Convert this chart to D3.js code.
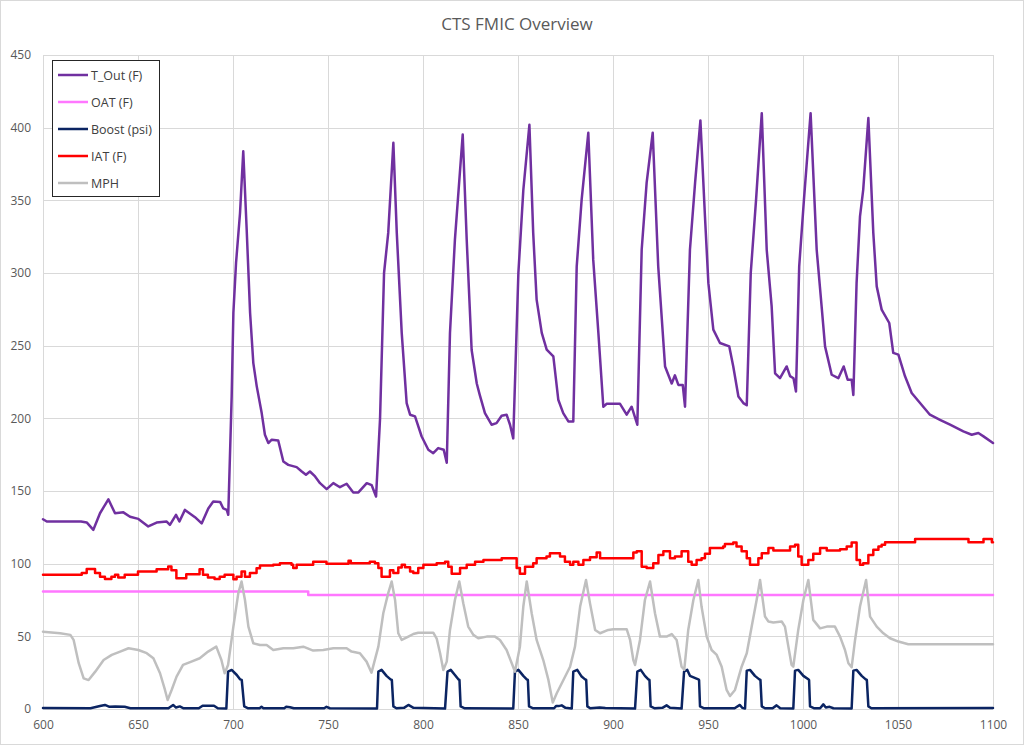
<!DOCTYPE html>
<html><head><meta charset="utf-8">
<script src="https://cdn.jsdelivr.net/npm/d3@7"></script>
<style>
html,body{margin:0;padding:0;background:#fff;}
svg{display:block;font-family:"Open Sans",sans-serif;}
</style></head>
<body>
<svg id="chart" width="1024" height="745"></svg>
<script>
// ---- data (time in s, values) ----
const xTicks = [600,650,700,750,800,850,900,950,1000,1050,1100];
const yTicks = [0,50,100,150,200,250,300,350,400,450];
const seriesNames = ["T_Out (F)","OAT (F)","Boost (psi)","IAT (F)","MPH"];
const seriesColors = ["#7030A0","#FF77FF","#0B2462","#FF0000","#BFBFBF"];

const tOut = [[600,130.6],[602,129],[610,129],[620,129],[623,128.4],[626.5,123.3],[630,134.7],[634.4,144.3],[637.9,134.7],[642.3,135.3],[645.8,132.3],[650.2,130.8],[655.4,125.6],[659.8,128.3],[665.1,129],[666.8,126.7],[670,133.6],[671.8,129],[674.7,137],[680,132],[683.5,127.7],[687,138],[689.6,142.8],[693.2,142.5],[694.9,138],[696.7,137],[697.5,133.6],[699.3,215],[700.2,272.5],[701.6,306.9],[703.7,341.3],[705.4,383.8],[707.2,329.9],[709,272.5],[710.7,238],[712.5,222],[715.1,203.6],[716.8,188.7],[718.6,183],[720.4,185.3],[723.8,184.8],[726.5,170.3],[729.1,168],[733.5,166.4],[736.2,163.4],[738.4,161.2],[740.5,163.4],[743.2,160],[745.8,155.4],[749.3,151.3],[752.8,155.4],[756.3,152.6],[759.8,155],[763.3,149],[766,149],[770.4,155.4],[773,154],[775.3,146.2],[777.4,200],[779.5,300],[781.7,327.6],[784.4,389.6],[786.2,327.6],[788.8,258.8],[791.4,210.5],[793.2,202.5],[795.8,201.3],[799.3,187.5],[802.8,178.4],[805.4,176],[808,179.5],[810.9,178.4],[812.5,169.4],[814.2,258.8],[816.8,323],[820.9,395.3],[823,323],[825.6,247],[828.3,224],[829.9,216],[832.6,203.6],[836.1,195.6],[838.7,196.7],[841.4,201.8],[844,202.5],[845.8,195.6],[847.5,186.2],[850.2,300],[852.8,357],[856,402],[858,327.6],[859.8,281.7],[862.5,258.8],[865.1,247.3],[868.6,242.6],[871.2,212.8],[873.8,203.6],[876.5,197.9],[879.1,197.9],[880.9,304.6],[883.5,350.5],[887,396.5],[889.6,309],[892.3,258.8],[894.9,208],[896.7,210],[903.7,210],[907.2,202.5],[909.8,208],[912.8,195.6],[915.1,316],[917.7,362],[920.9,396.5],[923.8,304.6],[927.4,235.7],[930.9,224],[932.6,229.6],[934.4,223],[936.7,223],[937.9,208],[940.5,316],[943.2,362],[946,405],[948.4,339],[950.2,293],[952.8,261],[956.3,251.8],[961.2,249.5],[963.3,235.7],[966,215],[968.6,210.5],[970.4,209],[972.5,300],[975.3,350.5],[978.3,410],[980.9,316],[983.5,277],[985.3,231],[987.9,227.6],[991.4,235.7],[993.2,229],[995,227.6],[996.3,218.5],[998,304.6],[1000.5,350.5],[1004,410],[1007.2,316],[1009.8,277],[1011.6,249.5],[1015.1,230],[1018.6,227.6],[1021.4,235.7],[1023.5,226.6],[1025.6,226.6],[1026.5,216],[1028.2,293],[1030,339],[1031.7,357.4],[1034.4,406.6],[1037,327.6],[1038.8,290.8],[1041.4,274.8],[1045.4,265.6],[1047.5,245],[1050.2,243.8],[1053.7,228.9],[1057.2,217.4],[1061.6,210.5],[1066.8,202.5],[1072.1,199],[1077.4,195.6],[1084.4,191],[1088.8,188.7],[1092.3,189.9],[1095,187.6],[1100,183]];

const oat = [[600,80.8],[739.6,80.8],[739.6,78.5],[1100,78.5]];

const boost = [[600,0.7],[625,0.5],[630,2],[632.6,2.8],[635,1.5],[638,1.8],[643,1.5],[646,0.5],[666,0.5],[668.5,2.8],[670,1],[672,1.8],[674,0.5],[682,0.5],[684,2.3],[690,2.3],[692,0.5],[696.5,0.3],[697.4,25.7],[699.3,26.9],[702,23.4],[703.7,20.4],[704.6,20],[705.9,1.8],[708,0.5],[714,0.5],[715,1.5],[716,0.5],[727,0.5],[728,1.5],[730,1.2],[732,0.5],[748,0.5],[749.2,1.5],[751,0.5],[775.8,0.3],[776.5,25.7],[778.2,26.9],[780.8,22.8],[782.9,20.4],[783.6,20],[784.4,1.8],[786,0.5],[790,0.8],[792.3,2.8],[795,0.8],[811.6,0.3],[812.9,25.7],[814.6,26.9],[816.8,23.4],[818.6,20.4],[819.2,20],[819.8,1.8],[822,0.5],[847.5,0.3],[848.4,25.7],[850.2,26.9],[852.8,22.8],[854.6,20.4],[855.2,20],[855.8,1.8],[858,0.5],[869,0.5],[870,2],[871.4,2],[873,2.5],[875,0.8],[878.3,0.3],[879.1,25.7],[881.2,26.9],[883.5,22.3],[885.3,20.4],[885.9,20],[886.5,1.8],[888,0.5],[893,1],[896,0.7],[911.6,0.3],[912.8,25.7],[914.6,26.9],[916.8,22.8],[918.6,20.4],[919.2,20],[919.8,1.8],[922,0.5],[926,0.8],[928.2,2.5],[930,0.8],[936.1,0.3],[937.4,25.7],[939.1,26.9],[940.5,22.8],[944.9,20.4],[945.3,20],[945.8,1.8],[948,0.5],[964,0.5],[966.8,2.8],[968,0.8],[969.5,0.3],[970.4,26.4],[972.1,26.9],[974.7,22.8],[977,20.4],[977.6,20],[978.3,1.8],[980,0.5],[984,0.5],[986.1,2.5],[988,0.5],[994.9,0.3],[995.8,26.4],[997.5,26.9],[1000.2,22.8],[1002.8,20.4],[1003.2,20],[1003.7,1.8],[1006,0.5],[1009,0.5],[1010.7,3.2],[1012,1],[1014,1.5],[1016,0.5],[1025.6,0.3],[1026.5,26.4],[1028.2,26.9],[1030.9,22.8],[1033,20.4],[1033.6,20],[1034.4,1.8],[1036,0.5],[1100,0.7]];

const iat = [[600,92.3],[620.4,93.5],[623,96.4],[627.4,93.5],[630,91],[632.6,89.5],[636,91],[637.9,92.3],[639.6,90.5],[643,92.3],[650,94.6],[659.8,96.2],[665.9,98],[667.6,95.5],[670.2,90],[675.4,92.8],[682.4,96.2],[684.2,92.3],[686.8,90.5],[690.3,89.5],[693,91],[695.6,92.3],[700.2,89.3],[701.9,91],[704.5,94.6],[706.3,91],[708.9,93.5],[712.4,96.9],[714.2,98.7],[721.2,99.2],[724.7,100.3],[730.8,99.2],[731.7,97],[733.5,99.2],[742.2,101.4],[749.2,100],[760.8,102],[762,100.3],[772,101.4],[774.7,100.3],[776.5,97],[778.2,91],[782.6,95.5],[784.4,93.5],[787,97.4],[788.8,99.2],[790.5,97.6],[793.2,94.6],[794.9,93.5],[797.5,97],[800.2,99.2],[807.2,100.3],[811.6,101.4],[813.3,97.9],[815.1,93],[819.5,97],[823,99.2],[827.4,101.4],[831.8,102.6],[841.4,103.7],[849.3,97],[851,93],[853.7,97.9],[858,100.3],[859.8,103.7],[865,104.9],[866.8,107.2],[872.1,104.9],[874.7,101.4],[877.4,99.2],[879.1,101.4],[881.8,99.2],[884.4,102.6],[887.9,104.4],[891.4,107.7],[893.2,103.7],[910.7,107.7],[912.5,108.5],[915.1,97.9],[917.7,97],[921.2,100.3],[923.9,106],[926.5,108.5],[930,103.7],[932.6,104.9],[936.1,108.5],[939.6,101.4],[941.4,99.2],[944,102.6],[946.6,103.7],[948.4,106.8],[951,110.7],[958,111.8],[958.9,113.6],[963.3,114.5],[965,111.8],[967.7,108.5],[970.4,103.7],[972.1,99.2],[976.5,103.7],[978.3,107.2],[981.8,110.7],[984.4,109],[993.2,111.8],[995.8,113],[997.5,104.9],[999.3,99.2],[1002.8,102.6],[1005.4,106.8],[1009,110.7],[1012.5,109],[1019.5,110],[1023,111.8],[1025.6,114.5],[1028.2,102.6],[1030,99.2],[1031.7,100.3],[1034.4,106],[1037,109.6],[1039.7,111.8],[1041.4,113],[1043.2,114.8],[1059,116.9],[1087.1,114.8],[1095,116.9],[1099.4,114.8],[1100,114.8]];

const mph = [[600,53.2],[609,52.1],[614.4,51],[616.1,47.6],[618.8,31.5],[621.4,21.1],[624,19.9],[627.5,25.7],[631.9,33.7],[636.2,37.2],[640.6,39.5],[645,41.8],[650.2,40.6],[654.6,38.4],[658.1,34.9],[661.6,24.6],[664.2,13.1],[665.6,6.2],[667.7,13.1],[670.3,22.3],[673.7,30.3],[678.1,32.6],[682.5,34.9],[686.9,39.5],[691.2,42.9],[693.9,33.7],[695.6,24.6],[697.4,30.3],[700.2,56.7],[702.8,79.7],[704.5,87.7],[706.3,75],[708.1,56.7],[710.7,45.2],[714.2,44],[717.7,44],[721.2,40.6],[726.5,41.8],[731.7,41.8],[737,42.9],[742.2,40.2],[747.5,40.6],[752.8,41.8],[759.8,41.8],[762.4,39.5],[766.8,38.4],[770.3,32.6],[772.9,25],[776.5,42.9],[779.1,65.9],[781.7,79.7],[783.5,87.7],[785.3,75],[787,52.1],[788.8,47.5],[792.3,49.8],[794.9,51.6],[797.5,52.5],[805.4,52.5],[807.2,48.5],[809,38.4],[810.7,26.9],[812.5,32.6],[814.2,54.4],[816.8,75],[819.1,87.7],[821.2,72.7],[823.8,56.7],[826.5,51],[829.1,48.7],[833.5,49.8],[837.9,49.8],[840.5,47.5],[844,40.6],[846.7,31.5],[848.4,25.7],[851,42.9],[852.8,70.5],[854.6,87.7],[857.2,65.9],[859.8,47.5],[863.3,33.7],[866,20],[868.3,4.4],[870.4,10.8],[873.9,20],[877.4,29.1],[880,42.9],[882.7,70.5],[885.8,88.8],[887.9,72.7],[890.6,54.4],[893.2,52.1],[897.5,54.4],[900.2,54.9],[907.2,54.9],[909,47.5],[910.7,33.7],[911.6,30.3],[914.2,47.5],[916.8,75],[919.5,87.7],[922.1,65.9],[924.7,49.8],[928.2,49.8],[930.9,51.6],[933.5,47.5],[936.1,29.1],[937.5,27],[939.6,54.4],[942.3,75],[944.9,88.8],[946.6,70.5],[949.3,49.8],[951.9,40.6],[954.6,37.2],[957.2,29.1],[959.8,13.1],[961.6,8.9],[964.2,13.1],[967.7,29.1],[970.4,38.4],[973,56.7],[975.6,75],[977.4,88.8],[980,63.6],[981.8,60.2],[984.4,59.5],[988.8,60.2],[990.5,56.7],[992.3,42.9],[994,30.3],[994.9,29.1],[997.5,54.4],[1000.2,75],[1002.8,88.8],[1005.4,61.3],[1009,55.5],[1012.5,56.7],[1016.8,56.7],[1019.5,49.8],[1022.1,40.6],[1023.9,31.5],[1025.6,28.7],[1027.4,47.5],[1030,70.5],[1033.2,88.8],[1035.3,63.6],[1038.8,56.7],[1042.3,52.1],[1045.8,48.7],[1050.2,46.4],[1055.4,44.5],[1100,44.5]];

// ---- layout ----
const W = 1024, H = 745;
const plot = {left: 43, right: 993, top: 55, bottom: 709};
const svg = d3.select("#chart");

svg.append("rect").attr("x",0.5).attr("y",0.5).attr("width",W-1).attr("height",H-1)
  .attr("fill","#ffffff").attr("stroke","#d9d9d9");

const x = d3.scaleLinear().domain([600,1100]).range([plot.left, plot.right]);
const y = d3.scaleLinear().domain([0,450]).range([plot.bottom, plot.top]);

// gridlines
const grid = svg.append("g");
grid.selectAll("line.h").data(yTicks).join("line")
  .attr("x1",plot.left).attr("x2",plot.right)
  .attr("y1",d=>Math.round(y(d))+0.5).attr("y2",d=>Math.round(y(d))+0.5)
  .attr("stroke","#d9d9d9").attr("stroke-width",1);
grid.selectAll("line.v").data(xTicks).join("line")
  .attr("y1",plot.top).attr("y2",plot.bottom)
  .attr("x1",d=>Math.round(x(d))+0.5).attr("x2",d=>Math.round(x(d))+0.5)
  .attr("stroke","#d9d9d9").attr("stroke-width",1);

// axes
const xAxis = d3.axisBottom(x).tickValues(xTicks).tickFormat(d3.format("d")).tickSize(0).tickPadding(11);
const yAxis = d3.axisLeft(y).tickValues(yTicks).tickFormat(d3.format("d")).tickSize(0).tickPadding(12);
const gx = svg.append("g").attr("transform",`translate(0,${plot.bottom})`).call(xAxis);
const gy = svg.append("g").attr("transform",`translate(${plot.left},0)`).call(yAxis);
[gx,gy].forEach(g=>{
  g.select(".domain").remove();
  g.selectAll("text").attr("fill","#595959").style("font-size","12px").style("font-family","'Open Sans',sans-serif");
});

// lines
const line = d3.line().x(d=>x(d[0])).y(d=>y(d[1])).curve(d3.curveLinear);
const stepLine = d3.line().x(d=>x(d[0])).y(d=>y(d[1])).curve(d3.curveStepAfter);
const series = [
  {name:seriesNames[0], data:tOut, color:seriesColors[0], gen:line, w:2.5},
  {name:seriesNames[1], data:oat, color:seriesColors[1], gen:line, w:2.5},
  {name:seriesNames[2], data:boost, color:seriesColors[2], gen:line, w:2.5},
  {name:seriesNames[3], data:iat, color:seriesColors[3], gen:stepLine, w:2.5},
  {name:seriesNames[4], data:mph, color:seriesColors[4], gen:line, w:2.5}
];
svg.append("g").selectAll("path").data(series).join("path")
  .attr("d",d=>d.gen(d.data)).attr("fill","none")
  .attr("stroke",d=>d.color).attr("stroke-width",d=>d.w)
  .attr("stroke-linejoin","round").attr("stroke-linecap","round");

// title
svg.append("text").attr("x",(plot.left+plot.right)/2 - 1).attr("y",30)
  .attr("text-anchor","middle").attr("fill","#595959")
  .style("font-size","17px").text("CTS FMIC Overview");

// legend
const lg = svg.append("g");
lg.append("rect").attr("x",52.5).attr("y",60.5).attr("width",107).attr("height",136)
  .attr("fill","#ffffff").attr("stroke","#262626").attr("stroke-width",1);
const items = lg.selectAll("g.item").data(series).join("g")
  .attr("transform",(d,i)=>`translate(0,${75 + i*27})`);
items.append("line").attr("x1",58).attr("x2",88).attr("y1",0).attr("y2",0)
  .attr("stroke",d=>d.color).attr("stroke-width",2.5);
items.append("text").attr("x",91).attr("y",4.5).attr("fill","#404040")
  .style("font-size","12.5px").text(d=>d.name);
</script>
</body></html>
